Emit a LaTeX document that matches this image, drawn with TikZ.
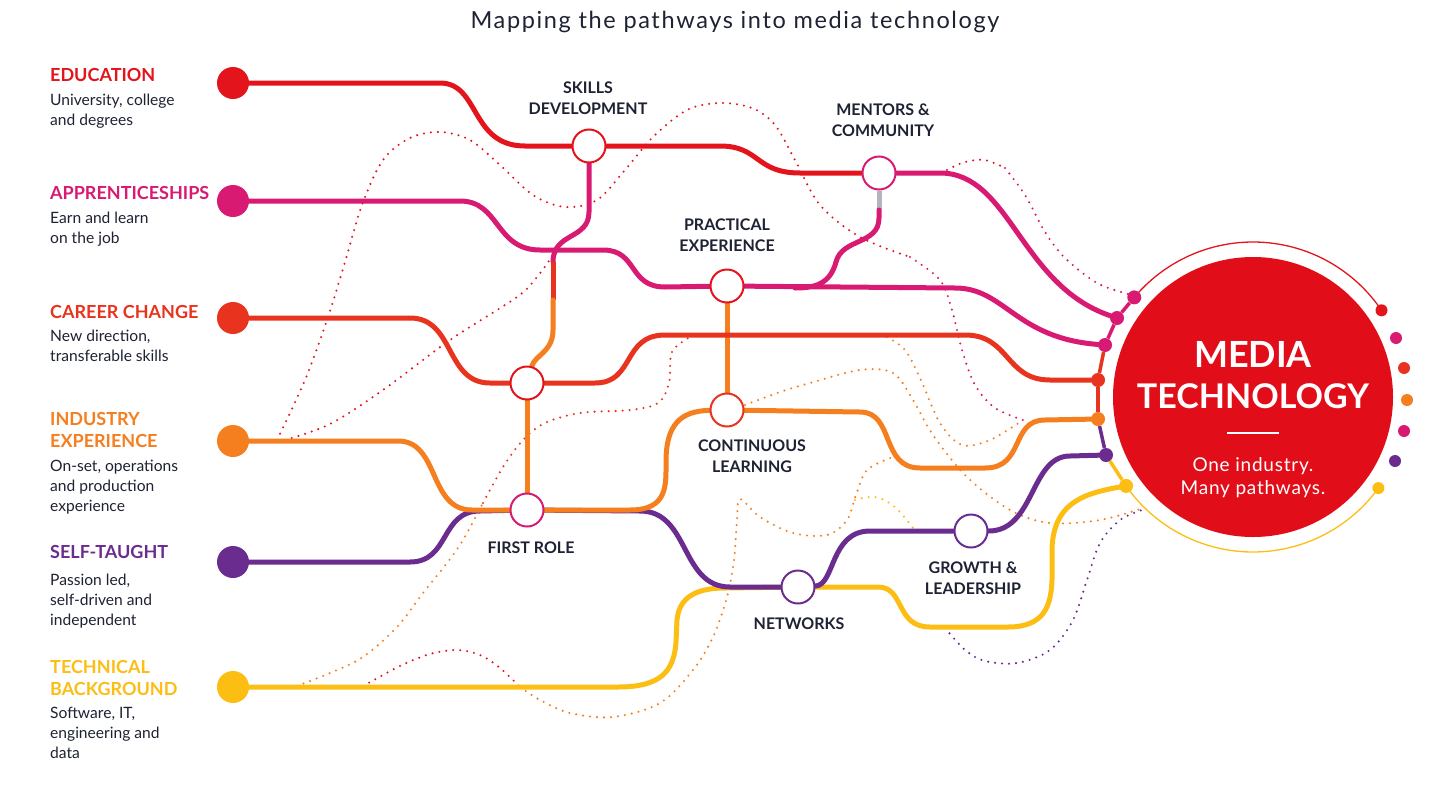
\documentclass[tikz,border=0pt]{standalone}
\usepackage{fontspec}
\setmainfont{Lato}
\newfontfamily\titlefont[LetterSpace=7]{Lato}
\newfontfamily\subfont[LetterSpace=4]{Lato}
\usetikzlibrary{calc}
\definecolor{cRed}{HTML}{E3141C}
\definecolor{cMag}{HTML}{D81A72}
\definecolor{cRO}{HTML}{E8341F}
\definecolor{cOr}{HTML}{F57E1E}
\definecolor{cPur}{HTML}{6A2C8F}
\definecolor{cYel}{HTML}{FDBE14}
\definecolor{cCirc}{HTML}{E10E1A}
\definecolor{cText}{HTML}{1E2233}
\definecolor{cGray}{HTML}{B4B4BE}
\pgfdeclarelayer{bg}
\pgfsetlayers{bg,main}
\tikzset{
  mline/.style={line width=5pt, line cap=round, line join=round},
  dotline/.style={line width=2.3pt, line cap=round, dash pattern=on 0pt off 7pt},
  station/.style={circle, draw, line width=2pt, fill=white, minimum size=33pt, inner sep=0pt},
  startdot/.style={circle, minimum size=32pt, inner sep=0pt},
  jdot/.style={circle, minimum size=14pt, inner sep=0pt},
  rdot/.style={circle, minimum size=12pt, inner sep=0pt},
  head/.style={anchor=base west, inner sep=0pt, font=\bfseries\fontsize{18}{21}\selectfont},
  desc/.style={anchor=base west, inner sep=0pt, text=cText, font=\fontsize{15.6}{20}\selectfont},
  slabel/.style={align=center, inner sep=0pt, text=cText, font=\bfseries\fontsize{16}{21}\selectfont},
}
\begin{document}
\begin{tikzpicture}[x=1pt,y=-1pt]
\useasboundingbox (0,0) rectangle (1440,809);

% title
\node[anchor=base, inner sep=0pt, text=cText, font=\titlefont\fontsize{23.5}{26}\selectfont] (title) at (735,28) {Mapping the pathways into media technology};

% left texts
\foreach \n/\y/\c/\t in {h1/81/cRed/EDUCATION, h2/199/cMag/APPRENTICESHIPS, h3/318/cRO/CAREER CHANGE, h4/425/cOr/INDUSTRY, h5/447/cOr/EXPERIENCE, h6/558/cPur/SELF-TAUGHT, h7/673/cYel/TECHNICAL, h8/695/cYel/BACKGROUND}
  \node[head, text=\c] (\n) at (50,\y) {\t};
\foreach \n/\y/\t in {d1/105/{University, college}, d2/125/{and degrees}, d3/223/{Earn and learn}, d4/243/{on the job}, d5/341/{New direction,}, d6/361/{transferable skills}, d7/471/{On-set, operations}, d8/491/{and production}, d9/511/{experience}, d10/585/{Passion led,}, d11/605/{self-driven and}, d12/625/{independent}, d13/718/{Software, IT,}, d14/738/{engineering and}, d15/758/{data}}
  \node[desc] (\n) at (50,\y) {\t};

% start circles
\node[startdot, fill=cRed] (edu) at (233,83) {};
\node[startdot, fill=cMag] (app) at (233,201) {};
\node[startdot, fill=cRO] (car) at (233,318) {};
\node[startdot, fill=cOr] (ind) at (233,441) {};
\node[startdot, fill=cPur] (slf) at (233,562) {};
\node[startdot, fill=cYel] (tec) at (233,687) {};

% stations
\node[station, draw=cRed] (sk) at (589,146) {};
\node[station, draw=cMag] (men) at (879,173) {};
\node[station, draw=cRed] (pr) at (727,286) {};
\node[station, draw=cRed] (cc) at (527,383) {};
\node[station, draw=cRO] (cl) at (727,410) {};
\node[station, draw=cMag] (fr) at (527,510) {};
\node[station, draw=cPur] (nw) at (798,587) {};
\node[station, draw=cPur] (gl) at (971,531) {};

% station labels
\node[slabel] (lsk) at (588,98) {SKILLS\\DEVELOPMENT};
\node[slabel] (lmen) at (883,120) {MENTORS \&\\COMMUNITY};
\node[slabel] (lpr) at (727,235) {PRACTICAL\\EXPERIENCE};
\node[slabel] (lcl) at (752,456) {CONTINUOUS\\LEARNING};
\node[slabel] (lfr) at (531,548) {FIRST ROLE};
\node[slabel] (lnw) at (799,624) {NETWORKS};
\node[slabel] (lgl) at (973,578) {GROWTH \&\\LEADERSHIP};

% big circle
\node[circle, fill=cCirc, minimum size=280pt, inner sep=0pt] (mt) at (1253,397) {};
\node[anchor=base, inner sep=0pt, text=white, font=\bfseries\fontsize{36}{40}\selectfont] (mt1) at (1253,367) {MEDIA};
\node[anchor=base, inner sep=0pt, text=white, font=\bfseries\fontsize{34}{40}\selectfont] (mt2) at (1253,408) {TECHNOLOGY};
\node[anchor=base, inner sep=0pt, text=white, font=\subfont\fontsize{19}{22}\selectfont] (mt3) at (1253,471) {One industry.};
\node[anchor=base, inner sep=0pt, text=white, font=\subfont\fontsize{19}{22}\selectfont] (mt4) at (1253,494) {Many pathways.};
\coordinate (rl1) at (1227,433);
\coordinate (rl2) at (1279,433);
\draw[white, line width=2.5pt] (rl1) -- (rl2);

% junction dots
\node[jdot, fill=cMag] (jm1) at ($(mt.center)+(140:155pt)$) {};
\node[jdot, fill=cMag] (jm2) at (1117,318) {};
\node[jdot, fill=cMag] (jm3) at (1105,345) {};
\node[jdot, fill=cRO] (jr) at (1098,380) {};
\node[jdot, fill=cOr] (jo) at (1098,419) {};
\node[jdot, fill=cPur] (jp) at (1106,455) {};
\node[jdot, fill=cYel] (jy) at ($(mt.center)+(215:155pt)$) {};

% right dots
\node[rdot, fill=cRed] (r1) at ($(mt.center)+(34:155pt)$) {};
\node[rdot, fill=cMag] (r2) at (1396,338) {};
\node[rdot, fill=cRO] (r3) at (1404,368) {};
\node[rdot, fill=cOr] (r4) at (1407,400) {};
\node[rdot, fill=cMag] (r5) at (1404,431) {};
\node[rdot, fill=cPur] (r6) at (1395,461) {};
\node[rdot, fill=cYel] (r7) at ($(mt.center)+(324:155pt)$) {};

\begin{pgfonlayer}{bg}
\fill[white] (0,0) rectangle (1440,809);

% ---- dotted lines ----
\draw[dotline, cRed] plot[smooth, tension=0.55] coordinates {(277,440) (305,380) (328,317) (345,262) (362,205) (383,160) (410,138) (440,132) (470,140) (500,165) (533,195) (565,207) (597,200) (625,170) (653,137) (687,110) (720,103) (752,108) (775,125) (795,160) (820,205) (860,237) (910,257)};
\draw[dotline, cMag] plot[smooth, tension=0.55] coordinates {(910,257) (940,280) (952,310) (962,350) (975,385) (995,408) (1023,420)};
\draw[dotline, cRed] plot[smooth, tension=0.55] coordinates {(285,440) (330,424) (383,390) (450,340) (517,297) (537,277) (553,255)};
\draw[dotline, cOr] plot[smooth, tension=0.55] coordinates {(297,686) (330,673) (363,657) (397,627) (423,593) (447,563) (463,540) (483,503)};
\draw[dotline, cRO] plot[smooth, tension=0.55] coordinates {(483,503) (503,467) (523,440) (545,423) (580,413) (630,410) (658,403) (669,383) (672,352) (690,337)};
\draw[dotline, cRed] plot[smooth, tension=0.55] coordinates {(363,686) (400,666) (430,654) (457,650) (480,655) (500,668) (520,687)};
\draw[dotline, cOr] plot[smooth, tension=0.55] coordinates {(520,687) (540,700) (570,713) (613,717) (660,703) (693,670) (713,637) (727,597) (734,560) (737,520) (740,499) (760,517) (793,533) (827,535) (847,520) (856,495) (867,470) (893,457)};
\draw[dotline, cYel] plot[smooth, tension=0.55] coordinates {(855,500) (875,497) (895,507) (913,528)};
\draw[dotline, cOr] plot[smooth, tension=0.55] coordinates {(745,405) (780,392) (810,383) (860,370) (893,373) (913,400) (933,435) (967,477) (1010,510) (1050,523) (1100,520) (1143,508)};
\draw[dotline, cOr] plot[smooth, tension=0.55] coordinates {(887,337) (905,350) (920,378) (940,423) (962,445) (990,440) (1023,420)};
\draw[dotline, cPur] plot[smooth, tension=0.55] coordinates {(945,628) (965,650) (985,661) (1017,663) (1050,650) (1073,620) (1087,580) (1100,543) (1120,520) (1142,510)};
\draw[dotline, cRed] plot[smooth, tension=0.55] coordinates {(947,170) (965,162) (985,160) (1005,168)};
\draw[dotline, cMag] plot[smooth, tension=0.55] coordinates {(1005,168) (1025,195) (1045,232) (1065,258) (1097,283) (1128,294)};

% ---- thin arcs ----
\draw[cRed, line width=1.3pt] ($(mt.center)+(140:155pt)$) arc[start angle=140, end angle=34, radius=155pt];
\draw[cYel, line width=1.3pt] ($(mt.center)+(215:155pt)$) arc[start angle=215, end angle=324, radius=155pt];

% ---- chain ----
\draw[cMag, line width=3.5pt] (jm1) -- (jm2);
\draw[cMag, line width=3.5pt] (jm2) -- (jm3);
\draw[cRO, line width=3.5pt] (jm3) -- (jr);
\draw[cRO, line width=3.5pt] (jr) -- (jo);
\draw[cPur, line width=3.5pt] (jo) -- (jp);
\draw[cYel, line width=3.5pt] (jp) -- (jy);

% ---- main lines ----
% technical (yellow)
\draw[mline, cYel] (tec) -- (618,687) .. controls (660,687) and (674,672) .. (676,642) -- (677,620) .. controls (679,598) and (695,588) .. (725,588) -- (nw);
\draw[mline, cYel] (nw) -- (878,587) .. controls (905,587) and (895,627) .. (930,627) -- (1008,627) .. controls (1045,627) and (1051,605) .. (1052,580) -- (1052,548) .. controls (1054,505) and (1080,494) .. (jy);
% self-taught (purple)
\draw[mline, cPur] (slf) -- (410,562) .. controls (450,562) and (440,511) .. (480,511) -- (fr);
\draw[mline, cPur] (fr) -- (640,511) .. controls (690,511) and (680,587) .. (730,587) -- (nw);
\draw[mline, cPur] (nw) .. controls (835,585) and (830,531) .. (870,531) -- (gl);
\draw[mline, cPur] (gl) .. controls (1035,531) and (1030,456) .. (1070,456) -- (jp);
% industry (orange)
\draw[mline, cOr] (ind) -- (398,441) .. controls (440,441) and (428,510) .. (472,510) -- (fr);
\draw[mline, cOr] (fr) -- (630,510) .. controls (668,510) and (666,485) .. (666,462) .. controls (666,425) and (680,411) .. (cl);
\draw[mline, cOr] (cl) -- (860,412) .. controls (895,412) and (880,468) .. (920,468) -- (985,468) .. controls (1025,468) and (1010,420) .. (1045,420) -- (jo);
\draw[mline, cOr] (pr) -- (cl);
\draw[mline, cOr] (cc) -- (fr);
% career change (red-orange)
\draw[mline, cRO] (car) -- (410,318) .. controls (455,318) and (445,383) .. (490,383) -- (cc);
\draw[mline, cRO] (cc) -- (595,383) .. controls (635,383) and (622,335) .. (665,335) -- (965,335) .. controls (1010,335) and (1005,380) .. (1050,380) -- (jr);
% apprenticeships (magenta)
\draw[mline, cMag] (app) -- (460,201) .. controls (500,201) and (495,250) .. (540,250) -- (603,250) .. controls (638,250) and (628,287) .. (665,287) -- (pr);
\draw[mline, cMag] (pr) -- (955,288) .. controls (1005,288) and (1015,338) .. (jm3);
% skills branch down
\coordinate (b1) at (553,262);
\coordinate (b2) at (553,300);
\draw[mline, cMag] (sk) -- (589,212) .. controls (589,240) and (553,232) .. (b1);
\draw[mline, cRO, line cap=butt] (b1) -- (b2);
\draw[mline, cOr] (b2) -- (553,330) .. controls (553,352) and (535,355) .. (cc);
% education (red)
\draw[mline, cRed] (edu) -- (440,83) .. controls (480,83) and (470,146) .. (525,146) -- (sk);
\draw[mline, cRed] (sk) -- (720,146) .. controls (760,146) and (755,173) .. (800,173) -- (men);
% mentors (magenta)
\draw[mline, cMag] (men) -- (940,173) .. controls (1010,173) and (1020,285) .. (jm2);
\coordinate (mb) at (879,210);
\coordinate (me) at (795,288);
\draw[mline, cGray, line cap=butt] (men) -- (mb);
\draw[mline, cMag] (mb) -- (879,218) .. controls (879,245) and (842,238) .. (836,262) .. controls (830,284) and (815,288) .. (me);
\end{pgfonlayer}
\end{tikzpicture}
\end{document}
